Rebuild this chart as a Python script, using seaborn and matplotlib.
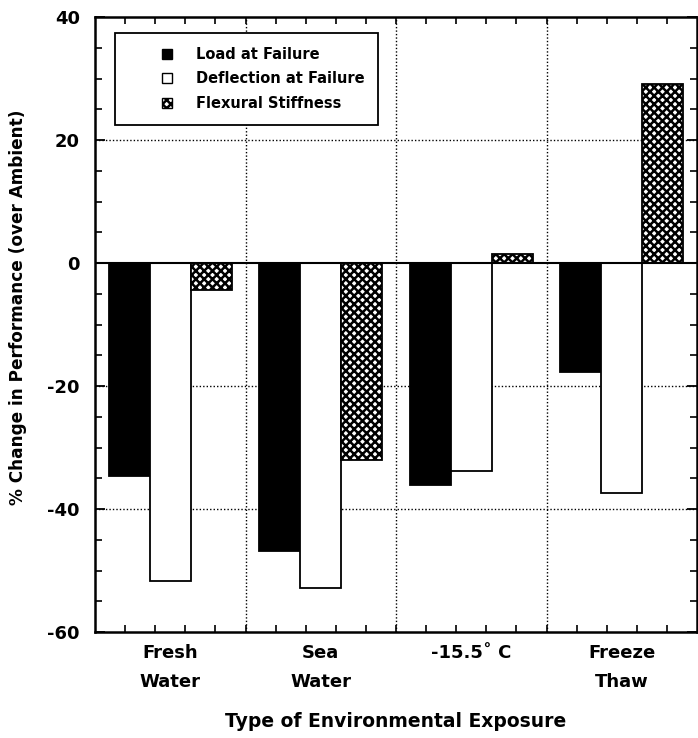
import matplotlib
matplotlib.use("Agg")
import matplotlib.pyplot as plt
import seaborn as sns
import pandas as pd
from matplotlib.patches import Patch, Rectangle
from matplotlib.legend_handler import HandlerPatch
from matplotlib.ticker import MultipleLocator, FixedLocator

exposures = ["Fresh\nWater", "Sea\nWater", "-15.5\u02da C", "Freeze\nThaw"]
measures = ["Load at Failure", "Deflection at Failure", "Flexural Stiffness"]
load_at_failure = [-34.6, -46.8, -36.1, -17.7]
deflection_at_failure = [-51.7, -52.8, -33.8, -37.4]
flexural_stiffness = [-4.4, -32.0, 1.5, 29.1]
y_ticks = [-60, -40, -20, 0, 20, 40]

rows = []
for m, vals in zip(measures, [load_at_failure, deflection_at_failure, flexural_stiffness]):
    for e, v in zip(exposures, vals):
        rows.append({"exposure": e, "measure": m, "value": v})
df = pd.DataFrame(rows)

sns.set_style("ticks")
plt.rcParams["font.family"] = ["DejaVu Sans"]
plt.rcParams["font.weight"] = "bold"
plt.rcParams["hatch.linewidth"] = 1.8
for key in ["text.color", "axes.labelcolor", "xtick.color", "ytick.color",
            "xtick.labelcolor", "ytick.labelcolor", "axes.edgecolor"]:
    plt.rcParams[key] = "black"

fig = plt.figure(figsize=(6.98, 7.38), dpi=100)
ax = fig.add_axes([95 / 698, (738 - 632) / 738, (697 - 95) / 698, (632 - 17) / 738])

sns.barplot(data=df, x="exposure", y="value", hue="measure", order=exposures,
            hue_order=measures, palette=["black", "white", "white"],
            edgecolor="black", linewidth=1.3, width=0.82, ax=ax, legend=False,
            saturation=1)

for bar in ax.containers[2]:
    bar.set_hatch("xxxx")

ax.set_xlim(-0.5, 3.5)
ax.set_ylim(-60, 40)
ax.set_yticks(y_ticks)
ax.set_yticklabels([str(t) for t in y_ticks], fontsize=13, fontweight="bold")
ax.yaxis.set_minor_locator(MultipleLocator(5))

ax.set_xticks(range(len(exposures)))
ax.set_xticklabels(exposures, fontsize=13, fontweight="bold", linespacing=1.75)
minor_x = [-0.5 + 0.2 * k for k in range(1, 20)]
ax.xaxis.set_minor_locator(FixedLocator(minor_x))

ax.tick_params(axis="x", which="major", length=0, pad=9)
ax.tick_params(axis="y", which="major", direction="in", length=7, width=1.3,
               right=True, pad=11)
ax.tick_params(which="minor", direction="in", length=5, width=1.2,
               top=True, right=True)

for yv in [20, -20, -40]:
    ax.axhline(yv, color="black", linestyle=(0, (1, 1.5)), linewidth=1.0, zorder=0)
for xv in [0.5, 1.5, 2.5]:
    ax.axvline(xv, color="black", linestyle=(0, (1, 1.5)), linewidth=1.0, zorder=0)
ax.axhline(0, color="black", linewidth=1.5, zorder=3)

for s in ax.spines.values():
    s.set_linewidth(1.8)
    s.set_color("black")

ax.set_xlabel("Type of Environmental Exposure", fontsize=13.5, fontweight="bold",
              va="center")
ax.xaxis.set_label_coords(0.5, -0.146)
ax.set_ylabel("% Change in Performance (over Ambient)", fontsize=12.2,
              fontweight="bold", va="center")
ax.yaxis.set_label_coords(-0.128, 0.528)


def small_square(legend, orig_handle, xdescent, ydescent, width, height, fontsize):
    s = 7.3
    return Rectangle((23.8 - xdescent, 0.5 * height - ydescent - s / 2), s, s)


handles = [Patch(facecolor="black", edgecolor="black", linewidth=1.0, label=measures[0]),
           Patch(facecolor="white", edgecolor="black", linewidth=1.0, label=measures[1]),
           Patch(facecolor="white", edgecolor="black", linewidth=1.0, hatch="xxxx",
                 label=measures[2])]
leg = ax.legend(handles=handles, loc="upper left", bbox_to_anchor=(0.0332, 0.974),
                frameon=True, fancybox=False, handlelength=3.7,
                handleheight=0.7, handletextpad=0.9, labelspacing=0.66,
                borderpad=0.95, borderaxespad=0, prop={"weight": "bold", "size": 10.5},
                handler_map={Patch: HandlerPatch(patch_func=small_square)})
leg.get_frame().set_edgecolor("black")
leg.get_frame().set_linewidth(1.3)
leg.get_frame().set_alpha(1)

fig.savefig("out.png", dpi=100)
